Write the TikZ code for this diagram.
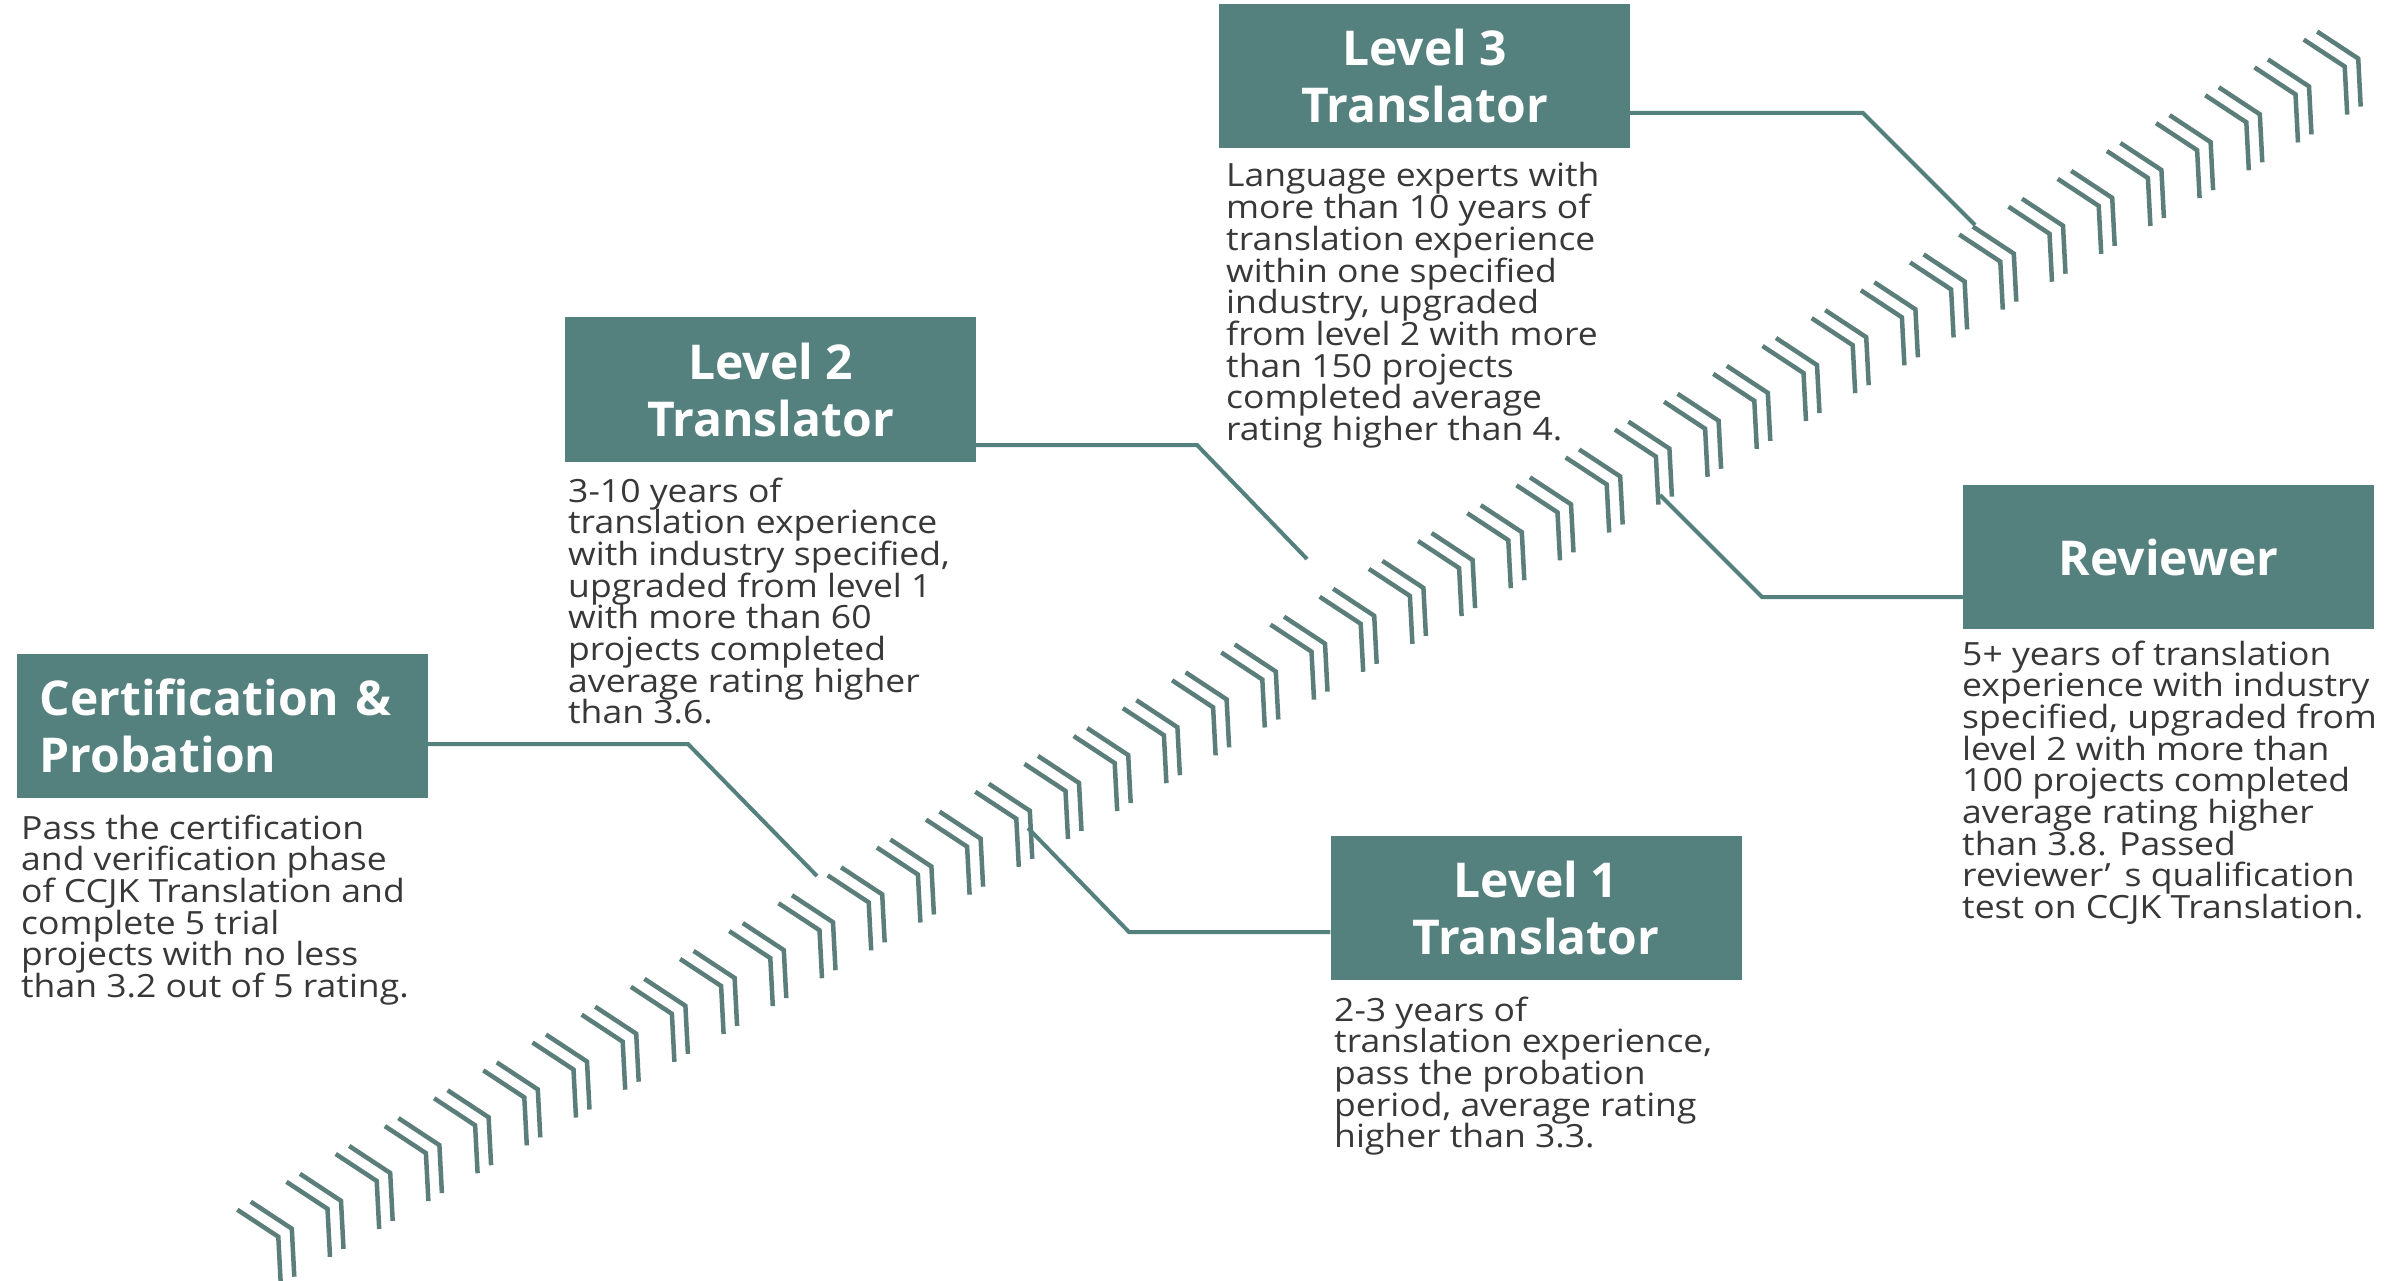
\documentclass[tikz,border=0pt]{standalone}
\usepackage{fontspec}
\setmainfont{Open Sans}
\newfontfamily\bodyfont[FakeStretch=1.11]{Open Sans}
\definecolor{boxteal}{HTML}{54817E}
\definecolor{chevgrey}{HTML}{5C7E7B}
\definecolor{bodygrey}{HTML}{383838}
% multi-line description block whose baseline is its first line
\newcommand\desclines[1]{\vtop{\hsize=480pt\bodyfont\fontsize{32}{31.7}\selectfont
  \lineskiplimit=-100pt\lineskip=0pt\raggedright\noindent#1}}
\begin{document}
\begin{tikzpicture}[x=1pt,y=-1pt,
  stage/.style={fill=boxteal, minimum width=411pt, minimum height=144pt, inner sep=0pt,
    text=white, font=\bfseries\fontsize{48}{57}\selectfont, align=center},
  desc/.style={anchor=base west, inner sep=0pt, text=bodygrey},
  conn/.style={draw=boxteal, line width=4pt},
  chev/.style={draw=chevgrey, line width=4.5pt}]
\useasboundingbox (0,0) rectangle (2407,1281);
\fill[white] (0,0) rectangle (2407,1281);

% diagonal track of double chevrons
\begin{scope}
  \clip (0,0) rectangle (2407,1281);
  \foreach \k in {0,...,42}{
    \begin{scope}[shift={({278.3+49.2*\k},{1236.7-27.86*\k})}]
      \draw[chev] (-41,-27) -- (0,0) -- (2.5,48);
      \draw[chev] (-27.5,-35) -- (13.5,-8) -- (16,40);
    \end{scope}
  }
\end{scope}

% stage boxes
\node[stage, align=left, text width=365pt] (cert) at (222,725.5) {Certification \&\\Probation};
\node[stage] (lvtwo) at (770.5,389.5) {Level 2\\Translator};
\node[stage] (lvthree) at (1424.5,76.5) {Level 3\\Translator};
\node[stage] (review) at (2168.5,557) {Reviewer};
\node[stage] (lvone) at (1536,908) {Level 1\\Translator};

% descriptions
\node[desc] (certtxt) at (21,839) {\desclines{Pass the certification\\and verification phase\\of CCJK Translation and\\complete 5 trial\\projects with no less\\than 3.2 out of 5 rating.}};
\node[desc] (lvtwotxt) at (568,502) {\desclines{3-10 years of\\translation experience\\with industry specified,\\upgraded from level 1\\with more than 60\\projects completed\\average rating higher\\than 3.6.}};
\node[desc] (lvthreetxt) at (1226,187) {\desclines{Language experts with\\more than 10 years of\\translation experience\\within one specified\\industry, upgraded\\from level 2 with more\\than 150 projects\\completed average\\rating higher than 4.}};
\node[desc] (reviewtxt) at (1962,665) {\desclines{5+ years of translation\\experience with industry\\specified, upgraded from\\level 2 with more than\\100 projects completed\\average rating higher\\than 3.8. Passed\\reviewer’\hspace{14pt}s qualification\\test on CCJK Translation.}};
\node[desc] (lvonetxt) at (1334,1021) {\desclines{2-3 years of\\translation experience,\\pass the probation\\period, average rating\\higher than 3.3.}};

% leader lines to the track
\coordinate (certK) at (688,744);   \coordinate (certE) at (817,876);
\coordinate (lvtwoK) at (1197,445); \coordinate (lvtwoE) at (1307,559);
\coordinate (lvthreeK) at (1863,113); \coordinate (lvthreeE) at (1975,225);
\coordinate (lvoneK) at (1129,932); \coordinate (lvoneE) at (1028,828);
\coordinate (reviewK) at (1762,597); \coordinate (reviewE) at (1660,495);
\draw[conn] (cert.east |- certK) -- (certK) -- (certE);
\draw[conn] (lvtwo.east |- lvtwoK) -- (lvtwoK) -- (lvtwoE);
\draw[conn] (lvthree.east |- lvthreeK) -- (lvthreeK) -- (lvthreeE);
\draw[conn] (lvone.west |- lvoneK) -- (lvoneK) -- (lvoneE);
\draw[conn] (review.west |- reviewK) -- (reviewK) -- (reviewE);
\end{tikzpicture}
\end{document}
